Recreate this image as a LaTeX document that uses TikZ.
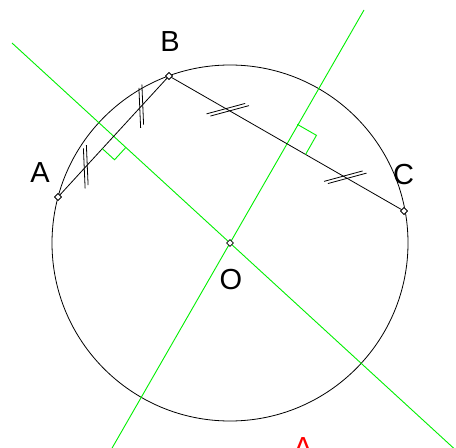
\documentclass[tikz,border=0pt]{standalone}
\usepackage{fontspec}
\setmainfont{Liberation Sans}
\usetikzlibrary{calc,shapes.geometric}
\definecolor{bisgreen}{RGB}{0,240,0}
\begin{document}
\begin{tikzpicture}[x=1bp,y=-1bp,
  pt/.style={shape=diamond, draw=black, fill=white, inner sep=0pt, minimum size=7bp, line width=0.6bp},
  lbl/.style={font=\fontsize{29bp}{34bp}\selectfont, inner sep=0pt},
  seg/.style={draw=black, line width=0.8bp},
  bis/.style={draw=bisgreen, line width=0.9bp},
  tickmark/.style={draw=black, line width=0.8bp},
]
\useasboundingbox (0,0) rectangle (456,448);
\clip (0,0) rectangle (456,448);
\fill[white] (0,0) rectangle (456,448);
% circle
\coordinate (Oc) at (230,243);
\draw[seg] (Oc) circle[radius=178bp];
% perpendicular bisectors
\coordinate (E1) at (12,43);
\coordinate (E2) at ($(E1)!2.05!(Oc)$);
\coordinate (E3) at (364,10);
\coordinate (E4) at ($(E3)!1.95!(Oc)$);
\draw[bis] (E1) -- (E2);
\draw[bis] (E3) -- (E4);
% points
\node[pt] (A) at (58,197) {};
\node[pt] (B) at (169,76) {};
\node[pt] (C) at (404,211) {};
% chords
\draw[seg] (A) -- (B);
\draw[seg] (B) -- (C);
% right angle marks
\coordinate (M1) at ($(A)!0.5!(B)$);
\coordinate (R1a) at ($(M1)!16.5bp!(A)$);
\coordinate (R1b) at ($(M1)!16.5bp!(Oc)$);
\draw[bis] (R1a) -- ($(R1a)+(R1b)-(M1)$) -- (R1b);
\coordinate (M2) at ($(B)!0.5!(C)$);
\coordinate (R2a) at ($(M2)!22bp!(C)$);
\coordinate (R2b) at ($(M2)!-22bp!(Oc)$);
\draw[bis] (R2a) -- ($(R2a)+(R2b)-(M2)$) -- (R2b);
% equal-length ticks
\foreach \X/\Y in {A/B,B/C}{
  \foreach \t in {0.25,0.75}{
    \foreach \s in {-2.2bp,2.2bp}{
      \coordinate (TP) at ($(\X)!\t!(\Y)$);
      \coordinate (TQ) at ($(TP)!\s!(\Y)$);
      \draw[tickmark] ($(TQ)!20bp!45:(\Y)$) -- ($(TQ)!-20bp!45:(\Y)$);
    }
  }
}
% redraw point markers on top
\node[pt] (A2) at (A) {};
\node[pt] (B2) at (B) {};
\node[pt] (C2) at (C) {};
\node[pt] (O) at (Oc) {};
% labels
\node[lbl] (lA) at (40,172.5) {A};
\node[lbl] (lB) at (170,42) {B};
\node[lbl] (lC) at (403.5,174.5) {C};
\node[lbl] (lO) at (231,280) {O};
\node[lbl, text=red] (lR) at (303,447.5) {A};
\end{tikzpicture}
\end{document}
